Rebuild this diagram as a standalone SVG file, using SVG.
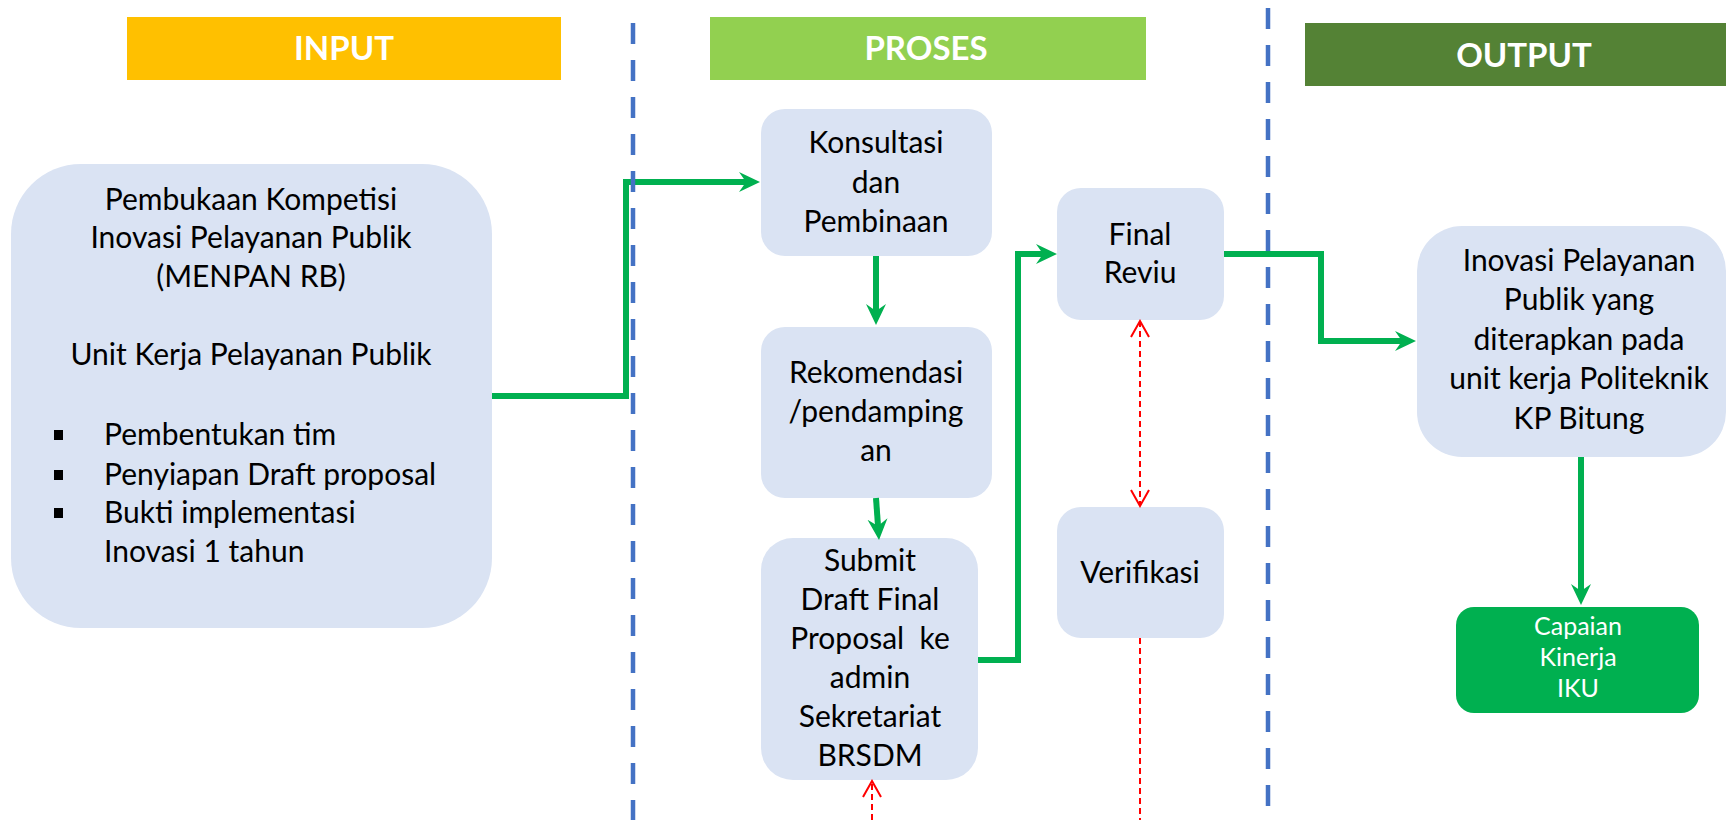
<svg xmlns="http://www.w3.org/2000/svg" width="1726" height="820" viewBox="0 0 1726 820">
<style>
.hdr{font-family:Lato,"Liberation Sans",sans-serif;font-weight:bold;font-size:33px;fill:#fff;text-anchor:middle}
.box{fill:#DAE3F3}
.t{font-family:Lato,"Liberation Sans",sans-serif;font-size:30px;fill:#000;text-anchor:middle}
.tl{font-family:Lato,"Liberation Sans",sans-serif;font-size:30px;fill:#000}
.tw{font-family:Lato,"Liberation Sans",sans-serif;font-size:25px;fill:#fff;text-anchor:middle}
.g{fill:none;stroke:#00B050;stroke-width:6;marker-end:url(#ga)}
.r{fill:none;stroke:#FF0000;stroke-width:2;stroke-dasharray:6 4}
.div{stroke:#4472C4;stroke-width:4.5;stroke-dasharray:21 16}
</style>
<defs>
<marker id="ga" markerUnits="userSpaceOnUse" viewBox="-11 -11 22 22" markerWidth="22" markerHeight="22" refX="0" refY="0" orient="auto">
<path d="M-11,-10 L10,0 L-11,10 L-4,0 Z" fill="#00B050"/>
</marker>
<marker id="ra" markerUnits="userSpaceOnUse" viewBox="-18 -11 20 22" markerWidth="20" markerHeight="22" refX="0" refY="0" orient="auto-start-reverse">
<path d="M-16,-9 L0,0 L-16,9" fill="none" stroke="#FF0000" stroke-width="2" stroke-dasharray="none"/>
</marker>
</defs>

<g id="headers">
<g id="h-input"><rect x="127" y="17" width="434" height="63" fill="#FFC000"/><text class="hdr" x="344" y="60">INPUT</text></g>
<g id="h-proses"><rect x="710" y="17" width="436" height="63" fill="#92D050"/><text class="hdr" x="926" y="60">PROSES</text></g>
<g id="h-output"><rect x="1305" y="23" width="421" height="63" fill="#548235"/><text class="hdr" x="1524" y="67">OUTPUT</text></g>
</g>

<g id="n-input">
<rect class="box" x="11" y="164" width="481" height="464" rx="70"/>
<text class="t" x="251" y="210">Pembukaan Kompetisi</text>
<text class="t" x="251" y="248">Inovasi Pelayanan Publik</text>
<text class="t" x="251" y="287">(MENPAN RB)</text>
<text class="t" x="251" y="365">Unit Kerja Pelayanan Publik</text>
<rect x="54" y="430" width="9" height="10" fill="#000"/>
<rect x="54" y="470" width="9" height="10" fill="#000"/>
<rect x="54" y="508" width="9" height="10" fill="#000"/>
<text class="tl" x="104" y="445">Pembentukan tim</text>
<text class="tl" x="104" y="485">Penyiapan Draft proposal</text>
<text class="tl" x="104" y="523">Bukti implementasi</text>
<text class="tl" x="104" y="562">Inovasi 1 tahun</text>
</g>

<g id="n-konsultasi">
<rect class="box" x="761" y="109" width="231" height="147" rx="24"/>
<text class="t" x="876" y="153">Konsultasi</text>
<text class="t" x="876" y="193">dan</text>
<text class="t" x="876" y="232">Pembinaan</text>
</g>

<g id="n-rekomendasi">
<rect class="box" x="761" y="327" width="231" height="171" rx="24"/>
<text class="t" x="876" y="383">Rekomendasi</text>
<text class="t" x="876" y="422">/pendamping</text>
<text class="t" x="876" y="461">an</text>
</g>

<g id="n-submit">
<rect class="box" x="761" y="538" width="217" height="242" rx="32"/>
<text class="t" x="870" y="571">Submit</text>
<text class="t" x="870" y="610">Draft Final</text>
<text class="t" x="870" y="649" xml:space="preserve">Proposal  ke</text>
<text class="t" x="870" y="688">admin</text>
<text class="t" x="870" y="727">Sekretariat</text>
<text class="t" x="870" y="766">BRSDM</text>
</g>

<g id="n-final">
<rect class="box" x="1057" y="188" width="167" height="132" rx="24"/>
<text class="t" x="1140" y="245">Final</text>
<text class="t" x="1140" y="283">Reviu</text>
</g>

<g id="n-verifikasi">
<rect class="box" x="1057" y="507" width="167" height="131" rx="24"/>
<text class="t" x="1140" y="583">Verifikasi</text>
</g>

<g id="n-output">
<rect class="box" x="1417" y="226" width="309" height="231" rx="45"/>
<text class="t" x="1579" y="271">Inovasi Pelayanan</text>
<text class="t" x="1579" y="310">Publik yang</text>
<text class="t" x="1579" y="350">diterapkan pada</text>
<text class="t" x="1579" y="389">unit kerja Politeknik</text>
<text class="t" x="1579" y="429">KP Bitung</text>
</g>

<g id="n-capaian">
<rect x="1456" y="607" width="243" height="106" rx="18" fill="#00B050"/>
<text class="tw" x="1578" y="635">Capaian</text>
<text class="tw" x="1578" y="666">Kinerja</text>
<text class="tw" x="1578" y="697">IKU</text>
</g>

<g id="connectors">
<path class="g" d="M492,396 H626 V182 H750"/>
<path class="g" d="M876,256 V315"/>
<path class="g" d="M876,498 L878.3,530"/>
<path class="g" d="M978,660 H1018 V254 H1047"/>
<path class="g" d="M1224,254 H1321 V341 H1406"/>
<path class="g" d="M1581,457 V595"/>
<path class="r" d="M1140,321 V506" marker-start="url(#ra)" marker-end="url(#ra)"/>
<path class="r" d="M1140,638 V820"/>
<path class="r" d="M872,820 V781" marker-end="url(#ra)"/>
</g>

<g id="dividers">
<line class="div" x1="633" y1="23" x2="633" y2="820"/>
<line class="div" x1="1268" y1="8" x2="1268" y2="820"/>
</g>
</svg>
